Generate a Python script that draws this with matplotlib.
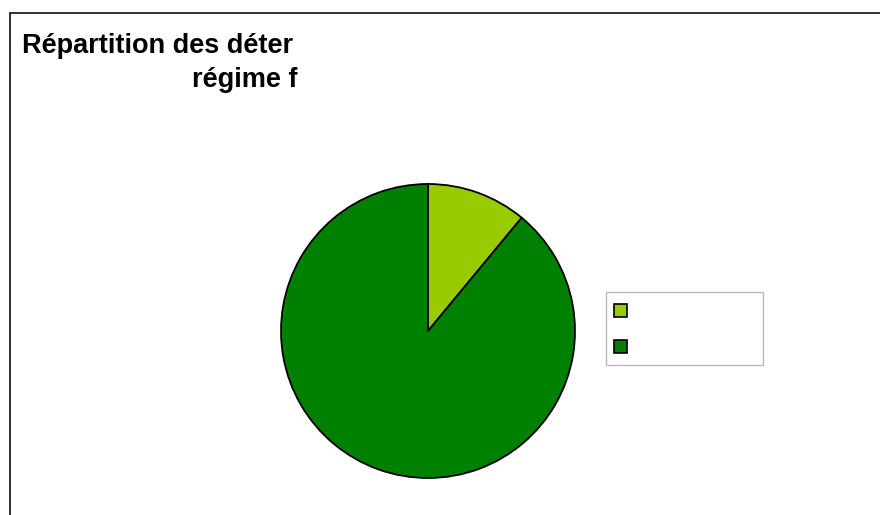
import matplotlib
matplotlib.use("Agg")
import matplotlib.pyplot as plt
from matplotlib.patches import Rectangle

# Data
categories = ["", ""]
values = [11, 89]
colors = ["#99cc00", "#008000"]
title_line1 = "Répartition des déter"
title_line2 = "régime f"

W, H = 880, 515
fig = plt.figure(figsize=(W / 100, H / 100), dpi=100)
fig.patch.set_facecolor("white")

def px(x, y):
    return x / W, 1 - y / H

# outer frame (extends beyond right/bottom)
fig.add_artist(Rectangle(px(9.5, 600), (900 - 9.5) / W, (600 - 12.5) / H,
                         transform=fig.transFigure, fill=False,
                         edgecolor="#222222", linewidth=1.3))

# title
x, y = px(22, 53)
fig.text(x, y, title_line1, fontsize=19.5, fontweight="bold",
         family="Liberation Sans", ha="left", va="baseline")
x, y = px(297, 87)
fig.text(x, y, title_line2, fontsize=19.5, fontweight="bold",
         family="Liberation Sans", ha="right", va="baseline")

# pie
cx, cy, r = 428, 331, 147
ax = fig.add_axes([(cx - r) / W, (H - cy - r) / H, 2 * r / W, 2 * r / H])
wedges, _ = ax.pie(values, colors=colors, startangle=90, counterclock=False,
                   wedgeprops=dict(edgecolor="black", linewidth=1.3))
ax.set_xlim(-1.0, 1.0)
ax.set_ylim(-1.0, 1.0)
ax.axis("off")

# legend box
lx0, ly0, lx1, ly1 = 605.5, 291.5, 762.5, 364.5
fig.add_artist(Rectangle(px(lx0, ly1), (lx1 - lx0) / W, (ly1 - ly0) / H,
                         transform=fig.transFigure, facecolor="white",
                         edgecolor="#bbbbbb", linewidth=1.0))
marker_y = [304, 340]
for c, my, lab in zip(colors, marker_y, categories):
    fig.add_artist(Rectangle(px(614, my + 13), 13 / W, 13 / H,
                             transform=fig.transFigure, facecolor=c,
                             edgecolor="black", linewidth=1.2))
    tx, ty = px(635, my + 6.5)
    fig.text(tx, ty, lab, fontsize=10, va="center", ha="left")

fig.savefig("out.png", dpi=100)
